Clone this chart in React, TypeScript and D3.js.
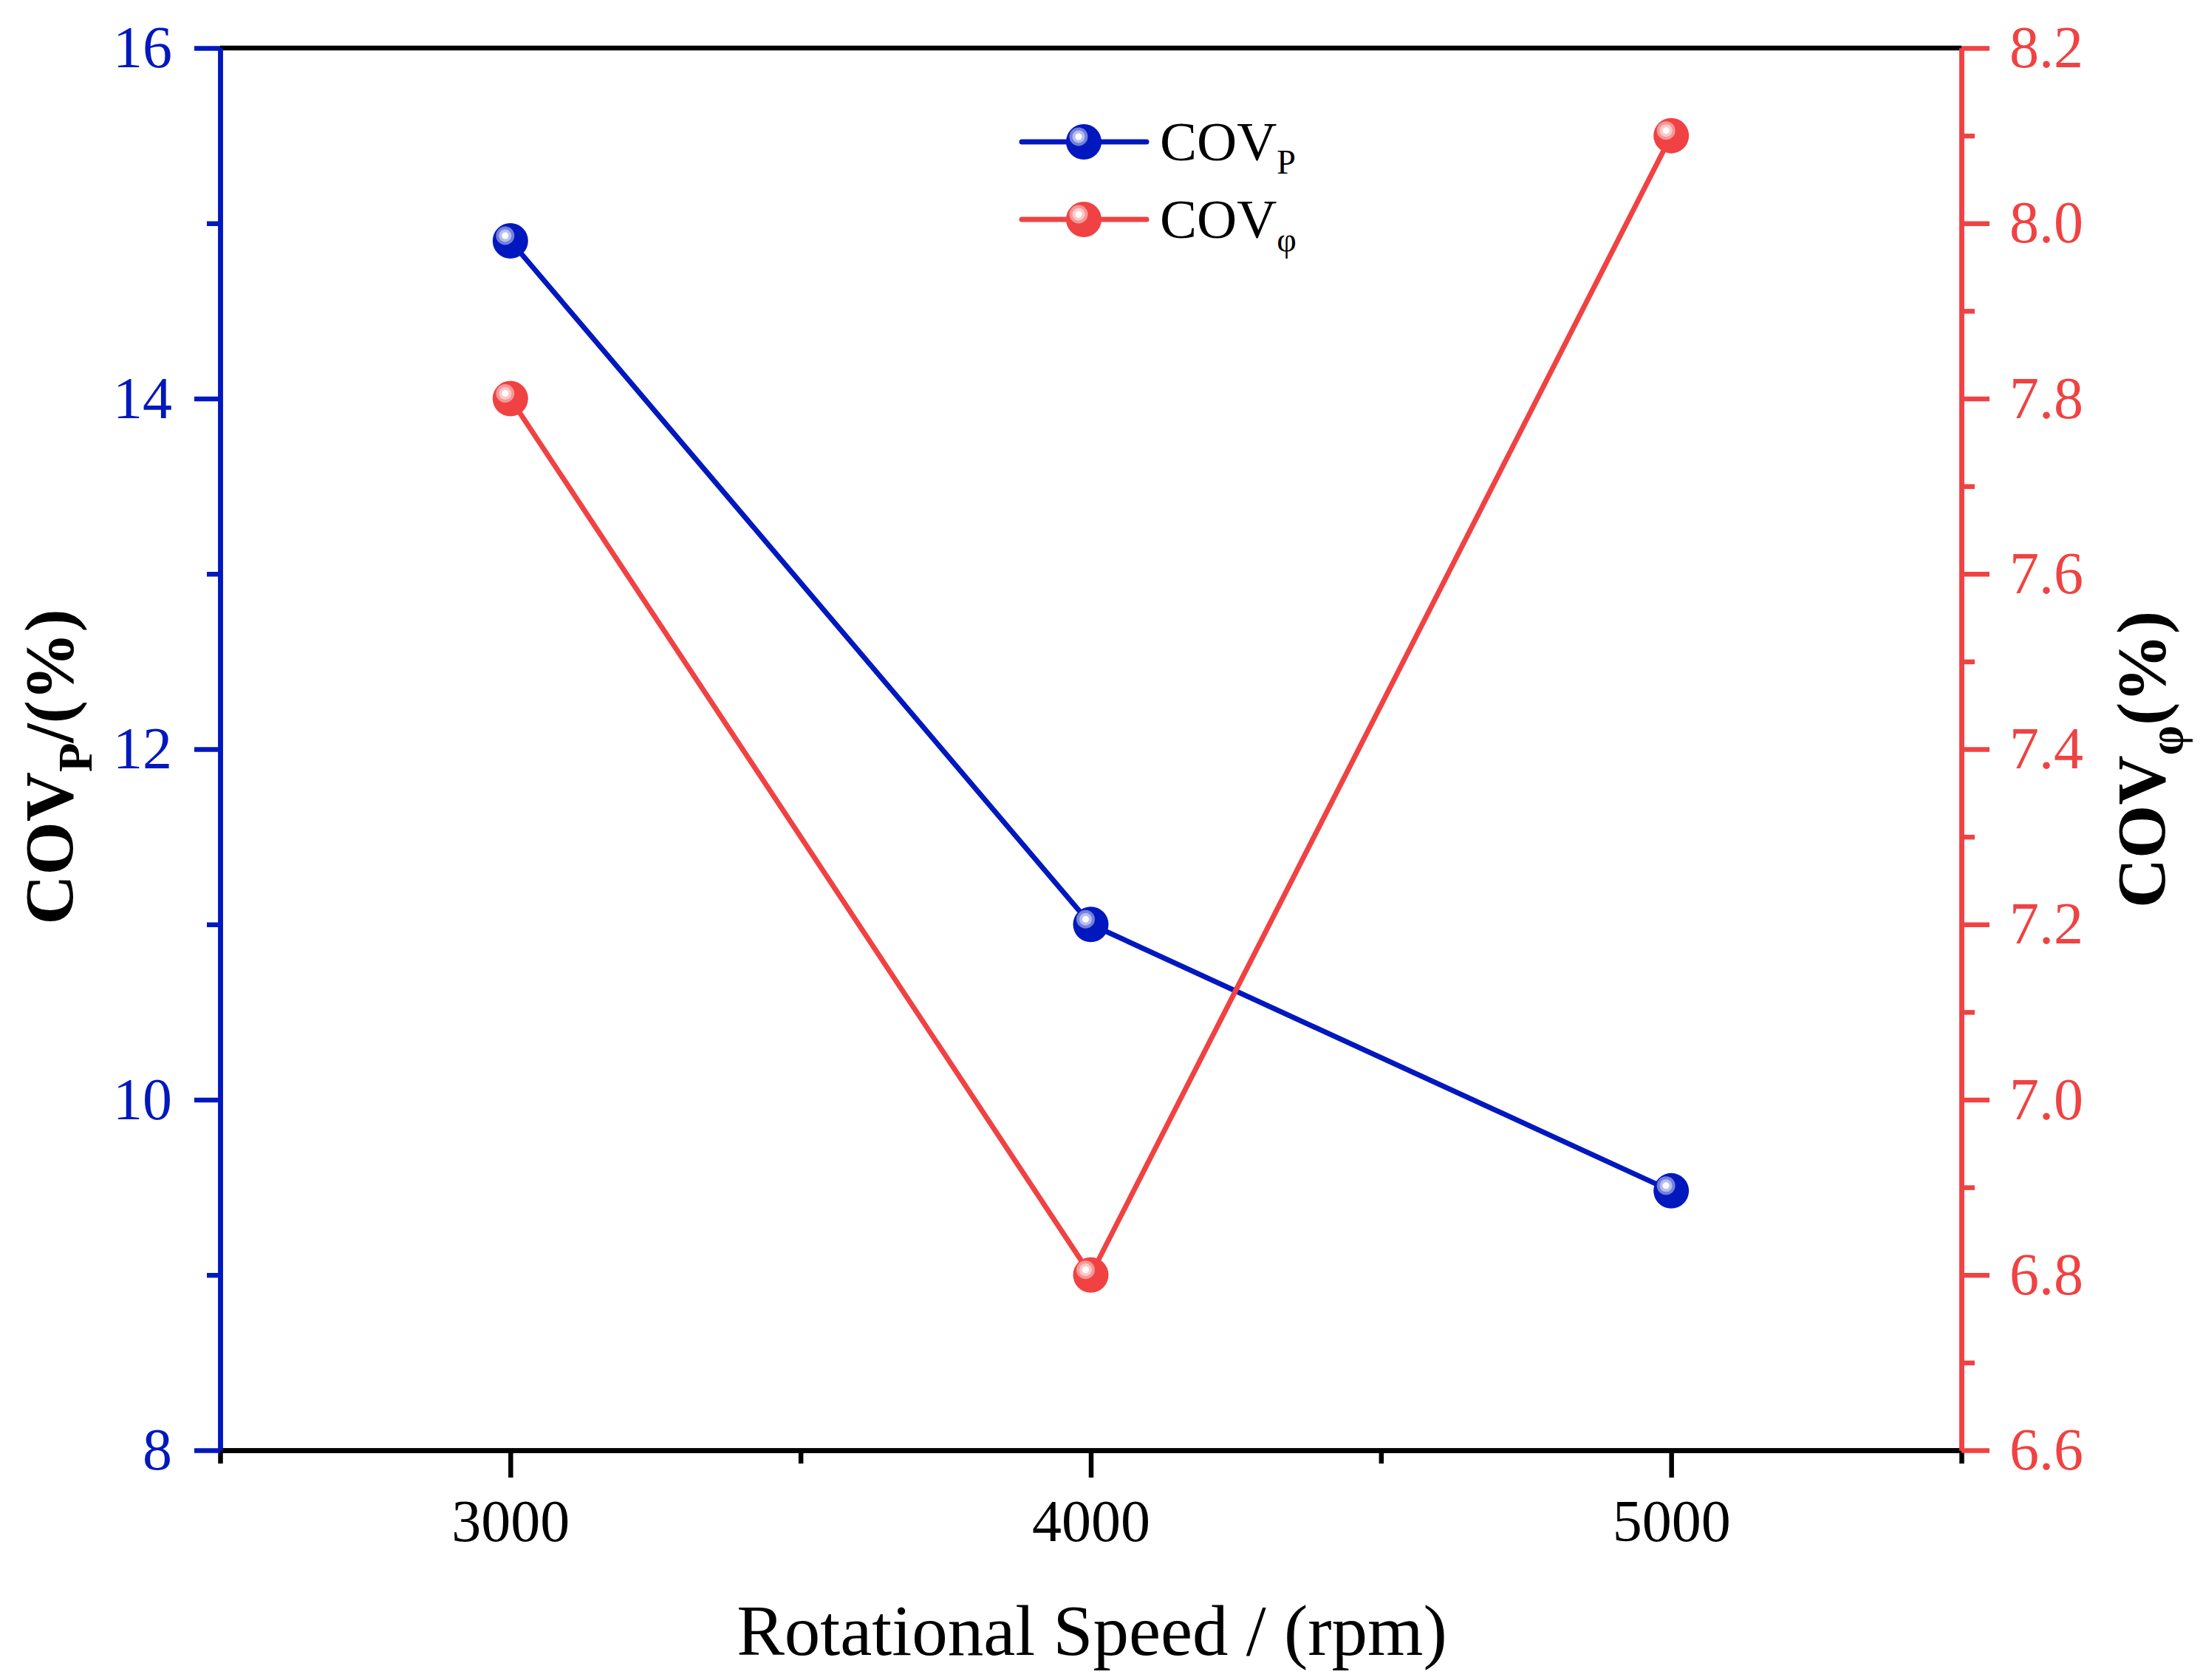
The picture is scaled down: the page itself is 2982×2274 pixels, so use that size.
import React, { useEffect, useRef } from 'react';
import * as d3 from 'd3';

// rotational speed (rpm)
const speeds = [3000, 4000, 5000];
// COV of peak pressure (%), left axis
const covP = [14.9, 11.0, 9.48];
// COV of phase (%), right axis
const covPhi = [7.8, 6.8, 8.1];

const xMajorTicks = [3000, 4000, 5000];
const xMinorTicks = [2500, 3500, 4500, 5500];
const leftMajorTicks = [8, 10, 12, 14, 16];
const leftMinorTicks = [9, 11, 13, 15];
const rightMajorTicks = [6.6, 6.8, 7.0, 7.2, 7.4, 7.6, 7.8, 8.0, 8.2];
const rightMinorTicks = [6.7, 6.9, 7.1, 7.3, 7.5, 7.7, 7.9, 8.1];

const BLUE = '#0018BE';
const RED = '#F04242';
const FONT = '"Liberation Serif", "Times New Roman", serif';

export default function App() {
  const svgRef = useRef<SVGSVGElement>(null);
  const width = 2982;
  const height = 2274;
  const margin = { top: 65, right: 327, bottom: 311, left: 298 };

  useEffect(() => {
    document.body.style.margin = '0';
    if (!svgRef.current) return;

    const svg = d3.select(svgRef.current);
    svg.selectAll('*').remove();

    const innerWidth = width - margin.left - margin.right;
    const innerHeight = height - margin.top - margin.bottom;

    const g = svg
      .append('g')
      .attr('transform', `translate(${margin.left}, ${margin.top})`);

    const xScale = d3.scaleLinear().domain([2500, 5500]).range([0, innerWidth]);
    const yLeft = d3.scaleLinear().domain([8, 16]).range([innerHeight, 0]);
    const yRight = d3.scaleLinear().domain([6.6, 8.2]).range([innerHeight, 0]);

    const axisWidth = 6.5;

    // top frame line
    g.append('line')
      .attr('x1', 0)
      .attr('x2', innerWidth)
      .attr('y1', 0)
      .attr('y2', 0)
      .attr('stroke', '#000')
      .attr('stroke-width', axisWidth);

    const styleAxis = (sel: any, color: string, size: number) => {
      sel.attr('font-family', FONT).attr('font-size', size);
      sel.selectAll('.domain').attr('stroke', color).attr('stroke-width', axisWidth);
      sel.selectAll('.tick line').attr('stroke', color).attr('stroke-width', axisWidth);
      sel.selectAll('text')
        .attr('fill', color)
        .style('font-family', FONT)
        .style('font-size', `${size}px`);
    };

    // Bottom axis
    const xMinor = g.append('g')
      .attr('transform', `translate(0, ${innerHeight})`)
      .call(d3.axisBottom(xScale).tickValues(xMinorTicks).tickSize(18).tickSizeOuter(0).tickFormat(() => ''));
    styleAxis(xMinor, '#000', 80);
    const xMajor = g.append('g')
      .attr('transform', `translate(0, ${innerHeight})`)
      .call(d3.axisBottom(xScale).tickValues(xMajorTicks).tickSize(37).tickSizeOuter(0).tickPadding(29).tickFormat(d3.format('d')));
    styleAxis(xMajor, '#000', 80);

    // Left axis (blue)
    const lMinor = g.append('g')
      .call(d3.axisLeft(yLeft).tickValues(leftMinorTicks).tickSize(18).tickSizeOuter(0).tickFormat(() => ''));
    styleAxis(lMinor, BLUE, 80);
    const lMajor = g.append('g')
      .call(d3.axisLeft(yLeft).tickValues(leftMajorTicks).tickSize(35).tickSizeOuter(0).tickPadding(30).tickFormat(d3.format('d')));
    styleAxis(lMajor, BLUE, 80);

    // Right axis (red)
    const rMinor = g.append('g')
      .attr('transform', `translate(${innerWidth}, 0)`)
      .call(d3.axisRight(yRight).tickValues(rightMinorTicks).tickSize(18).tickSizeOuter(0).tickFormat(() => ''));
    styleAxis(rMinor, RED, 80);
    const rMajor = g.append('g')
      .attr('transform', `translate(${innerWidth}, 0)`)
      .call(d3.axisRight(yRight).tickValues(rightMajorTicks).tickSize(38).tickSizeOuter(0).tickPadding(27).tickFormat(d3.format('.1f')));
    styleAxis(rMajor, RED, 80);

    // sphere-like marker
    const drawBall = (parent: any, cx: number, cy: number, color: string) => {
      const r = 24;
      parent.append('circle').attr('cx', cx).attr('cy', cy).attr('r', r).attr('fill', color);
      parent.append('circle').attr('cx', cx - 7).attr('cy', cy - 7).attr('r', 12.5)
        .attr('fill', d3.interpolateRgb(color, '#fff')(0.45));
      parent.append('circle').attr('cx', cx - 7).attr('cy', cy - 7).attr('r', 8.5)
        .attr('fill', d3.interpolateRgb(color, '#fff')(0.72));
      parent.append('circle').attr('cx', cx - 7).attr('cy', cy - 7).attr('r', 4.5)
        .attr('fill', '#fff');
    };

    const series = [
      { values: covP, scale: yLeft, color: BLUE },
      { values: covPhi, scale: yRight, color: RED },
    ];

    series.forEach(s => {
      const line = d3.line<number>()
        .x((d, i) => xScale(speeds[i]))
        .y(d => s.scale(d));
      g.append('path')
        .datum(s.values)
        .attr('d', line)
        .attr('fill', 'none')
        .attr('stroke', s.color)
        .attr('stroke-width', 7)
        .attr('stroke-linejoin', 'round');
    });

    series.forEach(s => {
      s.values.forEach((v, i) => drawBall(g, xScale(speeds[i]), s.scale(v), s.color));
    });

    // Legend
    const legend = svg.append('g');
    const legendItems = [
      { color: BLUE, sub: 'P', y: 192 },
      { color: RED, sub: 'φ', y: 297 },
    ];
    legendItems.forEach(item => {
      legend.append('line')
        .attr('x1', 1383)
        .attr('x2', 1552)
        .attr('y1', item.y)
        .attr('y2', item.y)
        .attr('stroke', item.color)
        .attr('stroke-width', 7)
        .attr('stroke-linecap', 'round');
      drawBall(legend, 1467, item.y, item.color);
      const t = legend.append('text')
        .attr('x', 1570)
        .attr('y', item.y + 25)
        .style('font-family', FONT)
        .style('font-size', '75px')
        .attr('fill', '#000');
      t.append('tspan').text('COV');
      t.append('tspan').attr('dy', 18).style('font-size', '46px').text(item.sub);
    });

    // X title
    svg.append('text')
      .attr('x', 1478)
      .attr('y', 2240)
      .attr('text-anchor', 'middle')
      .style('font-family', FONT)
      .style('font-size', '97px')
      .attr('fill', '#000')
      .text('Rotational Speed / (rpm)');

    // Left title
    const lt = svg.append('text')
      .attr('transform', 'translate(98, 1038) rotate(-90)')
      .attr('text-anchor', 'middle')
      .style('font-family', FONT)
      .style('font-size', '93px')
      .style('font-weight', 'bold')
      .attr('fill', '#000');
    lt.append('tspan').text('COV');
    lt.append('tspan').attr('dy', 26).style('font-size', '65px').text('P');
    lt.append('tspan').attr('dy', -26).text('/(%)');

    // Right title
    const rt = svg.append('text')
      .attr('transform', 'translate(2930, 1028) rotate(-90)')
      .attr('text-anchor', 'middle')
      .style('font-family', FONT)
      .style('font-size', '93px')
      .style('font-weight', 'bold')
      .attr('fill', '#000');
    rt.append('tspan').text('COV');
    rt.append('tspan').attr('dy', 24).style('font-size', '65px').text('φ');
    rt.append('tspan').attr('dy', -24).text('(%)');
  }, []);

  return (
    <svg
      ref={svgRef}
      width={width}
      height={height}
      viewBox={`0 0 ${width} ${height}`}
      style={{ display: 'block', background: '#fff' }}
    />
  );
}
